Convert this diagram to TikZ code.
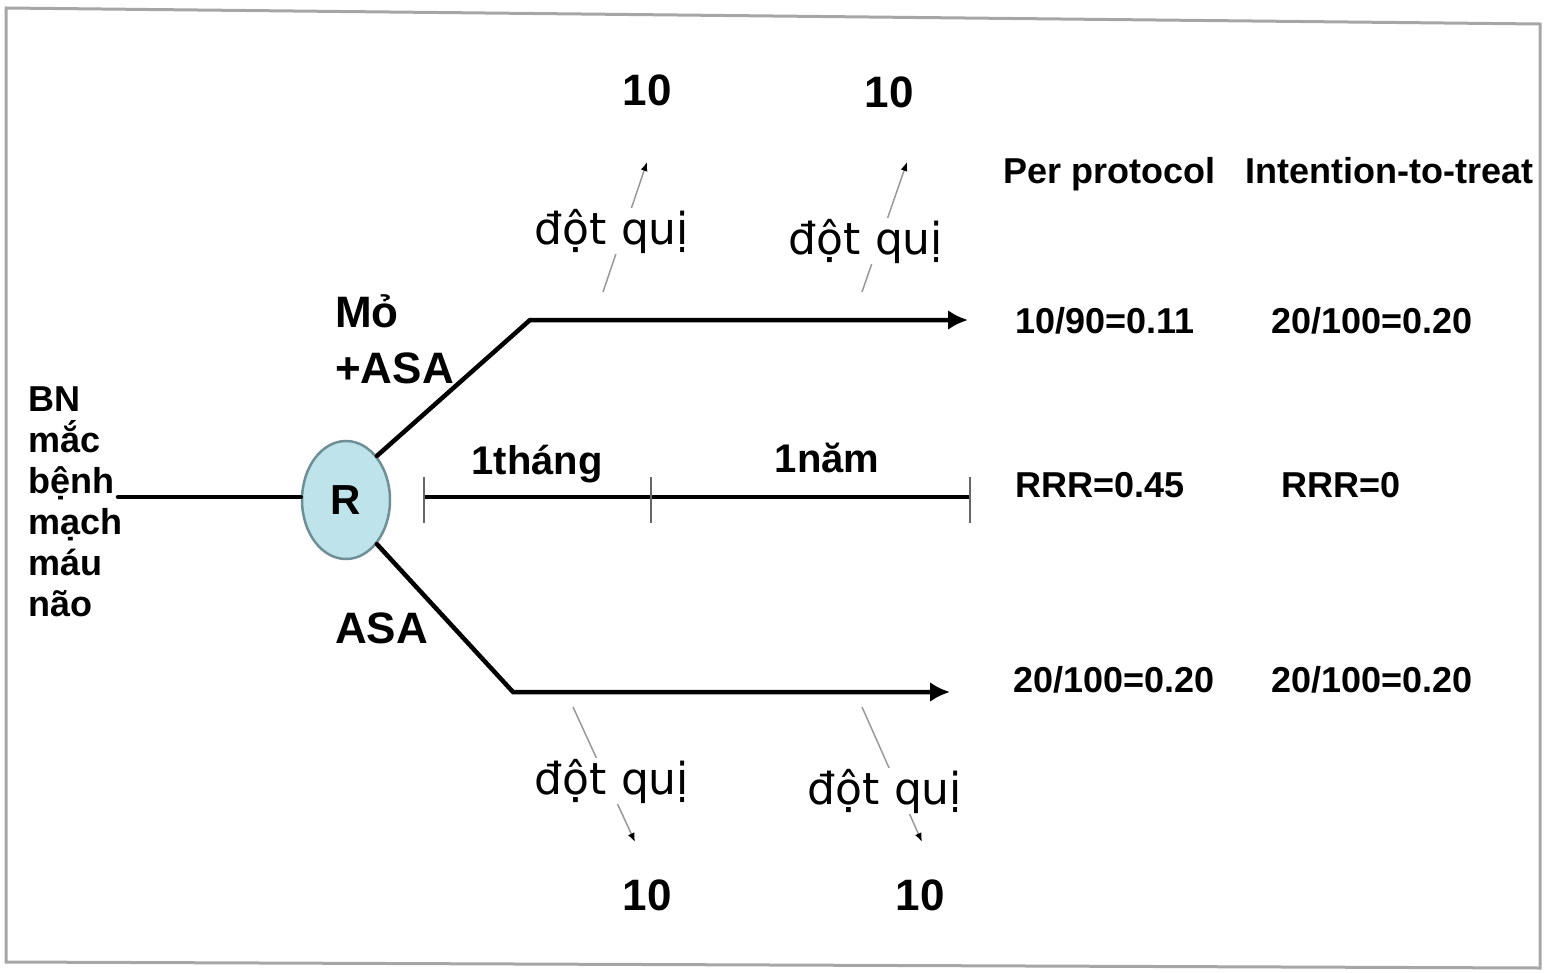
\documentclass[tikz,border=0pt]{standalone}
\usepackage{fontspec}
\setmainfont{Liberation Sans}
\newfontfamily\quifont{DejaVu Sans}
\usetikzlibrary{arrows.meta,shapes.geometric}

\definecolor{ballfill}{RGB}{191,227,234}
\definecolor{balledge}{RGB}{111,143,150}

\begin{document}
\begin{tikzpicture}[x=1pt,y=-1pt,
  bigtxt/.style={font=\fontsize{44}{44}\selectfont\bfseries,inner sep=0pt},
  sidetxt/.style={font=\fontsize{36}{41}\selectfont\bfseries,inner sep=0pt},
  coltxt/.style={font=\fontsize{36}{36}\selectfont\bfseries,inner sep=0pt},
  quitxt/.style={font=\fontsize{44}{44}\selectfont\quifont,inner sep=1pt,fill=white},
  arm/.style={draw,line width=4.5pt,line cap=round},
  pointer/.style={draw=gray!80,line width=1.5pt,-{Latex[length=9pt,width=7pt,black]}}]
\useasboundingbox (0,0) rectangle (1545,972);
% frame
\draw[gray!70,line width=3pt] (6,8) -- (1540,24) -- (1540,968) -- (6,962) -- cycle;

% start and randomisation
\node[sidetxt,anchor=west,align=left] (bn) at (28,502)
  {BN\\mắc\\bệnh\\mạch\\máu\\não};
\node[ellipse,draw=balledge,fill=ballfill,line width=2.5pt,
  minimum width=88pt,minimum height=118pt,inner sep=0pt,
  font=\fontsize{42}{42}\selectfont\bfseries] (r) at (346,500) {R};
\coordinate (bnend) at (118,497);
\path[arm] (bnend) -- (r.west |- bnend);

% the two arms
\coordinate (upbend) at (530,320);
\coordinate (upend) at (968,320);
\coordinate (lobend) at (513,692);
\coordinate (loend) at (950,692);
\path[arm,-{Latex[length=20pt,width=20pt]}] (r.55) -- (upbend) -- (upend);
\path[arm,-{Latex[length=20pt,width=20pt]}] (r.-55) -- (lobend) -- (loend);
\node[bigtxt,anchor=base west] (mo) at (335,327) {Mỏ};
\node[bigtxt,anchor=base west] (moasa) at (335,383) {+ASA};
\node[bigtxt,anchor=base west] (asa) at (335,643) {ASA};

% time line
\coordinate (t0) at (424,497);
\coordinate (t1) at (651,497);
\coordinate (t2) at (970,497);
\draw[line width=4pt] (t0) -- (t2);
\foreach \t in {t0,t1,t2}
  \draw[gray!80!black,line width=2pt] ([yshift=-26pt]\t) -- ([yshift=20pt]\t);
\node[font=\fontsize{40}{40}\selectfont\bfseries,inner sep=0pt,anchor=base]
  (month) at (537,474) {1tháng};
\node[font=\fontsize{40}{40}\selectfont\bfseries,inner sep=0pt,anchor=base]
  (year) at (827,472) {1năm};

% strokes
\coordinate (ula) at (603,292);
\coordinate (ulb) at (647,162);
\coordinate (ura) at (862,292);
\coordinate (urb) at (907,162);
\coordinate (lla) at (573,707);
\coordinate (llb) at (635,842);
\coordinate (lra) at (862,707);
\coordinate (lrb) at (922,842);
\path[pointer] (ula) -- (ulb);
\path[pointer] (ura) -- (urb);
\path[pointer] (lla) -- (llb);
\path[pointer] (lra) -- (lrb);
\node[quitxt,anchor=base] (qul) at (612,244) {đột quị};
\node[quitxt,anchor=base] (qur) at (866,254) {đột quị};
\node[quitxt,anchor=base] (qll) at (612,794) {đột quị};
\node[quitxt,anchor=base] (qlr) at (885,804) {đột quị};
\node[bigtxt,anchor=base] (nul) at (647,105) {10};
\node[bigtxt,anchor=base] (nur) at (889,107) {10};
\node[bigtxt,anchor=base] (nll) at (647,910) {10};
\node[bigtxt,anchor=base] (nlr) at (920,910) {10};

% results
\node[coltxt,anchor=base west] (pp) at (1003,183) {Per protocol};
\node[coltxt,anchor=base west] (itt) at (1245,183) {Intention-to-treat};
\node[coltxt,anchor=base] (ppup) at (1105,333) {10/90=0.11};
\node[coltxt,anchor=base] (ittup) at (1372,333) {20/100=0.20};
\node[coltxt,anchor=base] (pprrr) at (1100,497) {RRR=0.45};
\node[coltxt,anchor=base] (ittrrr) at (1341,497) {RRR=0};
\node[coltxt,anchor=base] (pplo) at (1114,692) {20/100=0.20};
\node[coltxt,anchor=base] (ittlo) at (1372,692) {20/100=0.20};
\end{tikzpicture}
\end{document}
